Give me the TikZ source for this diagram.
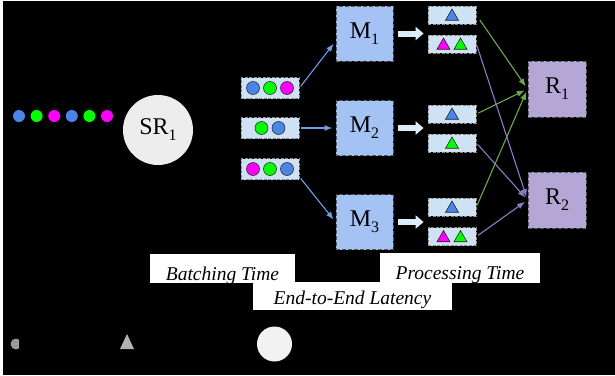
\documentclass[tikz,border=0pt]{standalone}
\usepackage{fontspec}
\setmainfont{Liberation Serif}
\usepackage{tikz}
\usepackage{xcolor}
\usetikzlibrary{arrows.meta, shapes.geometric, positioning}
\definecolor{tupleblue}{HTML}{4A86E8}
\definecolor{tuplegreen}{HTML}{00FF00}
\definecolor{tuplepink}{HTML}{FF00FF}
\definecolor{batchfill}{HTML}{CFE2F3}
\definecolor{mapfill}{HTML}{A4C2F4}
\definecolor{redfill}{HTML}{B4A7D6}
\definecolor{edgegreen}{HTML}{6AA84F}
\definecolor{edgepurple}{HTML}{8E7CC3}
\definecolor{edgeblue}{HTML}{6D9EEB}
\definecolor{dashline}{HTML}{595959}
\newcommand{\bigname}{\fontsize{24}{26}\selectfont}
\newcommand{\timename}{\fontsize{19.5}{21}\selectfont\itshape}
\newcommand{\idx}[1]{\raisebox{-6pt}{\fontsize{16}{16}\selectfont#1}}

\begin{document}
\begin{tikzpicture}[x=1pt, y=-1pt, on grid, >={Latex[length=8pt,width=6pt]},
    worker/.style={rectangle, draw=dashline, dash pattern=on 4pt off 2pt, line width=1pt, minimum width=57pt, minimum height=55pt, inner sep=0pt, font=\bigname},
    batch/.style={rectangle, draw=dashline!70, fill=batchfill, dash pattern=on 3pt off 1.5pt, line width=0.8pt, minimum width=58pt, minimum height=21pt, inner sep=0pt},
    outbox/.style={rectangle, draw=dashline!70, fill=batchfill, dash pattern=on 3pt off 1.5pt, line width=0.8pt, minimum width=48pt, minimum height=18pt, inner sep=0pt},
    ball/.style={circle, minimum size=12pt, inner sep=0pt},
    tuple/.style={circle, draw=black!80, line width=0.6pt, minimum size=13pt, inner sep=0pt},
    result/.style={regular polygon, regular polygon sides=3, draw=black!85, line width=0.6pt, minimum size=15pt, inner sep=0pt, yshift=-1.5pt},
    timebox/.style={rectangle, fill=white, inner sep=0pt, text depth=0pt, font=\timename},
    link/.style={->, line width=1.1pt, shorten <=2pt, shorten >=3pt},
    fat/.style={-{Triangle[length=8pt,width=13pt]}, line width=6pt, draw=batchfill!70!white, shorten <=4pt, shorten >=4pt}]

    % background
    \fill[white] (0,0) rectangle (615,375);
    \fill[black] (3,1) rectangle (615,375);
    \useasboundingbox (0,0) rectangle (615,375);

    % incoming stream
    \foreach \c [count=\i] in {tupleblue,tuplegreen,tuplepink,tupleblue,tuplegreen,tuplepink}
        \node[ball, fill=\c] (d\i) at ({1.4+17.6*\i},116) {};
    \node[circle, fill=black!7, minimum size=70pt, inner sep=0pt, font=\bigname] (SR) at (158,130) {SR\idx{1}};

    % mappers
    \node[worker, fill=mapfill] (M2) at (364.5,128) {M\idx{2}};
    \node[worker, fill=mapfill, above=94.5pt of M2] (M1) {M\idx{1}};
    \node[worker, fill=mapfill, below=94pt of M2] (M3) {M\idx{3}};

    % batches
    \node[batch, left=94.5pt of M2] (b2) {};
    \node[batch, above=40pt of b2] (b1) {};
    \node[batch, below=41pt of b2] (b3) {};
    \node[tuple, fill=tupleblue, left=17pt of b1] (b1a) {};
    \node[tuple, fill=tuplegreen] (b1b) at (b1) {};
    \node[tuple, fill=tuplepink, right=17pt of b1] (b1c) {};
    \node[tuple, fill=tuplegreen, left=8.5pt of b2] (b2a) {};
    \node[tuple, fill=tupleblue, right=8.5pt of b2] (b2b) {};
    \node[tuple, fill=tuplepink, left=17pt of b3] (b3a) {};
    \node[tuple, fill=tuplegreen] (b3b) at (b3) {};
    \node[tuple, fill=tupleblue, right=17pt of b3] (b3c) {};

    % partial results
    \node[outbox, above right=18.5pt and 87.5pt of M1] (o1) {};
    \node[outbox, below right=10.5pt and 87.5pt of M1] (o2) {};
    \node[outbox, above right=14pt and 87.5pt of M2] (o3) {};
    \node[outbox, below right=15pt and 87.5pt of M2] (o4) {};
    \node[outbox, above right=15pt and 87.5pt of M3] (o5) {};
    \node[outbox, below right=14.5pt and 87.5pt of M3] (o6) {};
    \node[result, fill=tupleblue] (t1) at (o1) {};
    \node[result, fill=tuplepink, left=8.5pt of o2] (t2a) {};
    \node[result, fill=tuplegreen, right=8.5pt of o2] (t2b) {};
    \node[result, fill=tupleblue] (t3) at (o3) {};
    \node[result, fill=tuplegreen] (t4) at (o4) {};
    \node[result, fill=tupleblue] (t5) at (o5) {};
    \node[result, fill=tuplepink, left=8.5pt of o6] (t6a) {};
    \node[result, fill=tuplegreen, right=8.5pt of o6] (t6b) {};

    % reducers
    \node[worker, fill=redfill, minimum width=58pt, minimum height=56pt] (R1) at (557,89) {R\idx{1}};
    \node[worker, fill=redfill, minimum width=58pt, minimum height=56pt, below=111pt of R1] (R2) {R\idx{2}};

    % time labels
    \node[timebox, minimum width=145pt, minimum height=29pt, text height=23pt] (bt) at (222.5,268.5) {Batching Time};
    \node[timebox, minimum width=160pt, minimum height=30pt, text height=23pt] (pt) at (460,268) {Processing Time};
    \node[timebox, minimum width=199pt, minimum height=28pt, text height=17pt] (el) at (352.5,296) {End-to-End Latency};

    % bottom legend shapes
    \begin{scope}
        \clip (0,330) rectangle (19,360);
        \fill[black!40] (16,344) circle (5.5);
    \end{scope}
    \fill[black!30] (127,334) -- (134,349) -- (120,349) -- cycle;
    \fill[black!5] (274.5,344) circle (17.5);

    \path[link, edgeblue]
    (b1.east) edge (M1.195)
    (b2.east) edge (M2.west)
    (b3.-15) edge (M3.west)
    ;

    \draw[fat] (M1.east) -- (M1.east -| o1.west);
    \draw[fat] (M2.east) -- (M2.east -| o3.west);
    \draw[fat] (M3.east) -- (M3.east -| o5.west);

    \path[link, edgegreen]
    (o1.east) edge[shorten <=6pt] (R1.west)
    (o3.east) edge (R1.west)
    (o5.east) edge (R1.west)
    ;
    \path[link, edgepurple]
    (o2.east) edge (R2.west)
    (o4.east) edge (R2.west)
    (o6.east) edge (R2.west)
    ;

\end{tikzpicture}
\end{document}
